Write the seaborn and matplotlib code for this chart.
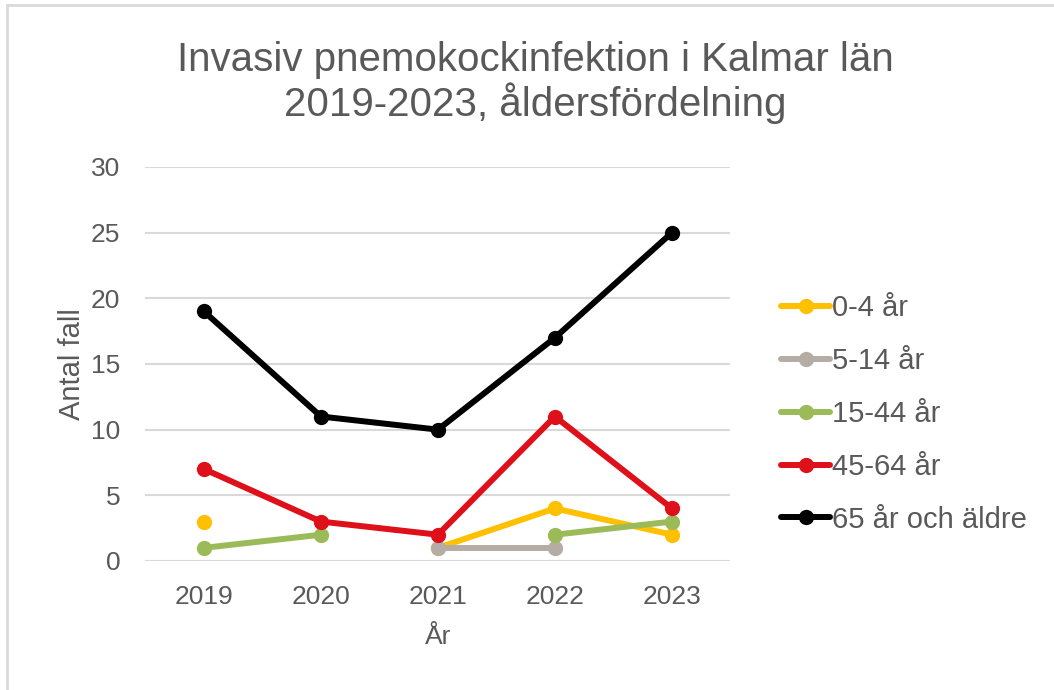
import numpy as np
import pandas as pd
import matplotlib
matplotlib.use("Agg")
import matplotlib.pyplot as plt
import seaborn as sns
from matplotlib.lines import Line2D
from matplotlib.patches import Rectangle

# =========================
# DATA
# =========================
years = [2019, 2020, 2021, 2022, 2023]
groups = ["0-4 år", "5-14 år", "15-44 år", "45-64 år", "65 år och äldre"]
age_0_4 = [3, np.nan, 1, 4, 2]
age_5_14 = [np.nan, np.nan, 1, 1, np.nan]
age_15_44 = [1, 2, np.nan, 2, 3]
age_45_64 = [7, 3, 2, 11, 4]
age_65 = [19, 11, 10, 17, 25]
colors = ["#FFC000", "#B5ADA5", "#9BBB59", "#DE101A", "#000000"]

# long form, with a segment id so gaps stay gaps
rows = []
for g, vals in zip(groups, [age_0_4, age_5_14, age_15_44, age_45_64, age_65]):
    seg = 0
    for yr, v in zip(years, vals):
        if np.isnan(v):
            seg += 1
            continue
        rows.append({"year": yr, "antal": v, "grupp": g, "seg": f"{g}_{seg}"})
df = pd.DataFrame(rows)

# =========================
# PLOT
# =========================
sns.set_theme(style="white")
plt.rcParams["font.family"] = ["Liberation Sans", "DejaVu Sans"]
text_col = "#595959"

fig = plt.figure(figsize=(10.54, 6.90), dpi=100)
ax = fig.add_axes([0.138, 0.187, 0.555, 0.571])

for g, c in zip(groups, colors):
    sns.lineplot(data=df[df["grupp"] == g], x="year", y="antal", units="seg",
                 estimator=None, color=c, linewidth=4.3, marker="o",
                 markersize=11, markeredgewidth=0, ax=ax, legend=False)

ax.set_xlim(2018.5, 2023.5)
ax.set_ylim(0, 30)
ax.set_xticks(years)
ax.set_xticklabels([str(y) for y in years])
ax.set_yticks(range(0, 31, 5))
ax.yaxis.grid(True, color="#D9D9D9", linewidth=1.5)
ax.set_axisbelow(True)
for s in ax.spines.values():
    s.set_visible(False)
ax.tick_params(axis="both", length=0, labelsize=19, colors=text_col)
ax.tick_params(axis="y", pad=18)
ax.tick_params(axis="x", pad=17)
ax.set_xlabel("År", fontsize=19, color=text_col, labelpad=12)
ax.set_ylabel("Antal fall", fontsize=21, color=text_col, labelpad=4)

fig.suptitle("Invasiv pnemokockinfektion i Kalmar län\n2019-2023, åldersfördelning",
             x=0.508, y=0.94, fontsize=29, color=text_col, linespacing=1.1)

handles = [Line2D([], [], color=c, linewidth=4.3, marker="o", markersize=11,
                  markeredgewidth=0) for c in colors]
fig.legend(handles, groups, loc="center left", bbox_to_anchor=(0.716, 0.4),
           frameon=False, fontsize=21, labelcolor=text_col, handlelength=1.7,
           handletextpad=0.05, labelspacing=0.85)

fig.patches.append(Rectangle((7 / 1054, -0.1), 1.2, 1 - 5 / 690 + 0.1,
                             transform=fig.transFigure, fill=False,
                             edgecolor="#D9D9D9", linewidth=2))

fig.savefig("out.png", dpi=100, facecolor="white")
